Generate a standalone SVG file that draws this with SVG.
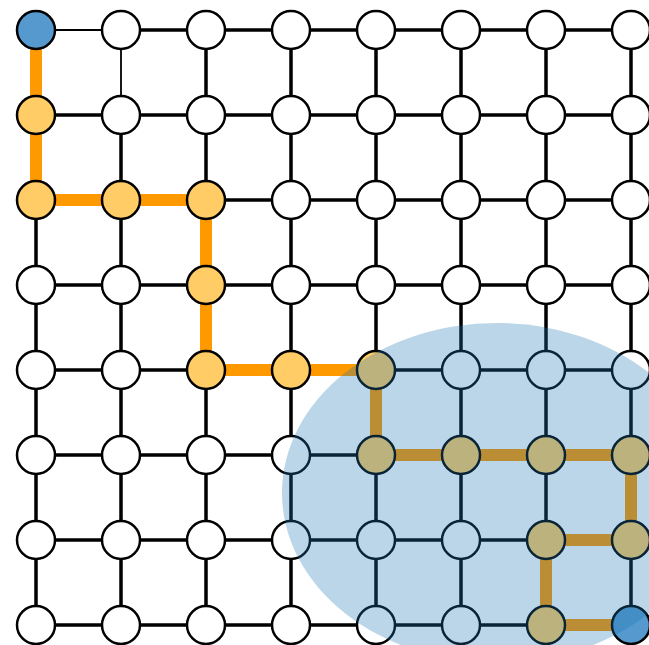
<svg xmlns="http://www.w3.org/2000/svg" width="649" height="645" viewBox="0 0 649 645">
<style>
.e{stroke:#000;stroke-width:3.5;fill:none}
.t{stroke:#000;stroke-width:1.8;fill:none}
.p{stroke:#FF9900;stroke-width:12;fill:none;stroke-linejoin:miter;stroke-linecap:square}
.n{stroke:#000;stroke-width:2.5;fill:#fff}
.y{fill:#FFCC66}
.b{fill:#5599CE}
</style>
<rect width="649" height="645" fill="#fff"/>
<g id="connectors">
<path class="t" d="M36,30H121M121,30V115"/>
<path class="e" d="M121,30H631M36,115H631M36,200H631M36,285H631M36,370H631M36,455H631M36,540H631M36,625H631M36,30V625M121,115V625M206,30V625M291,30V625M376,30V625M461,30V625M546,30V625M631,30V625"/>
<path class="p" d="M36,30V200H206V370H376V455H631V540H546V625H631"/>
</g>
<g id="nodes">
<g id="n0_0"><circle class="n b" cx="36" cy="30" r="19"/></g>
<g id="n1_0"><circle class="n" cx="121" cy="30" r="19"/></g>
<g id="n2_0"><circle class="n" cx="206" cy="30" r="19"/></g>
<g id="n3_0"><circle class="n" cx="291" cy="30" r="19"/></g>
<g id="n4_0"><circle class="n" cx="376" cy="30" r="19"/></g>
<g id="n5_0"><circle class="n" cx="461" cy="30" r="19"/></g>
<g id="n6_0"><circle class="n" cx="546" cy="30" r="19"/></g>
<g id="n7_0"><circle class="n" cx="631" cy="30" r="19"/></g>
<g id="n0_1"><circle class="n y" cx="36" cy="115" r="19"/></g>
<g id="n1_1"><circle class="n" cx="121" cy="115" r="19"/></g>
<g id="n2_1"><circle class="n" cx="206" cy="115" r="19"/></g>
<g id="n3_1"><circle class="n" cx="291" cy="115" r="19"/></g>
<g id="n4_1"><circle class="n" cx="376" cy="115" r="19"/></g>
<g id="n5_1"><circle class="n" cx="461" cy="115" r="19"/></g>
<g id="n6_1"><circle class="n" cx="546" cy="115" r="19"/></g>
<g id="n7_1"><circle class="n" cx="631" cy="115" r="19"/></g>
<g id="n0_2"><circle class="n y" cx="36" cy="200" r="19"/></g>
<g id="n1_2"><circle class="n y" cx="121" cy="200" r="19"/></g>
<g id="n2_2"><circle class="n y" cx="206" cy="200" r="19"/></g>
<g id="n3_2"><circle class="n" cx="291" cy="200" r="19"/></g>
<g id="n4_2"><circle class="n" cx="376" cy="200" r="19"/></g>
<g id="n5_2"><circle class="n" cx="461" cy="200" r="19"/></g>
<g id="n6_2"><circle class="n" cx="546" cy="200" r="19"/></g>
<g id="n7_2"><circle class="n" cx="631" cy="200" r="19"/></g>
<g id="n0_3"><circle class="n" cx="36" cy="285" r="19"/></g>
<g id="n1_3"><circle class="n" cx="121" cy="285" r="19"/></g>
<g id="n2_3"><circle class="n y" cx="206" cy="285" r="19"/></g>
<g id="n3_3"><circle class="n" cx="291" cy="285" r="19"/></g>
<g id="n4_3"><circle class="n" cx="376" cy="285" r="19"/></g>
<g id="n5_3"><circle class="n" cx="461" cy="285" r="19"/></g>
<g id="n6_3"><circle class="n" cx="546" cy="285" r="19"/></g>
<g id="n7_3"><circle class="n" cx="631" cy="285" r="19"/></g>
<g id="n0_4"><circle class="n" cx="36" cy="370" r="19"/></g>
<g id="n1_4"><circle class="n" cx="121" cy="370" r="19"/></g>
<g id="n2_4"><circle class="n y" cx="206" cy="370" r="19"/></g>
<g id="n3_4"><circle class="n y" cx="291" cy="370" r="19"/></g>
<g id="n4_4"><circle class="n y" cx="376" cy="370" r="19"/></g>
<g id="n5_4"><circle class="n" cx="461" cy="370" r="19"/></g>
<g id="n6_4"><circle class="n" cx="546" cy="370" r="19"/></g>
<g id="n7_4"><circle class="n" cx="631" cy="370" r="19"/></g>
<g id="n0_5"><circle class="n" cx="36" cy="455" r="19"/></g>
<g id="n1_5"><circle class="n" cx="121" cy="455" r="19"/></g>
<g id="n2_5"><circle class="n" cx="206" cy="455" r="19"/></g>
<g id="n3_5"><circle class="n" cx="291" cy="455" r="19"/></g>
<g id="n4_5"><circle class="n y" cx="376" cy="455" r="19"/></g>
<g id="n5_5"><circle class="n y" cx="461" cy="455" r="19"/></g>
<g id="n6_5"><circle class="n y" cx="546" cy="455" r="19"/></g>
<g id="n7_5"><circle class="n y" cx="631" cy="455" r="19"/></g>
<g id="n0_6"><circle class="n" cx="36" cy="540" r="19"/></g>
<g id="n1_6"><circle class="n" cx="121" cy="540" r="19"/></g>
<g id="n2_6"><circle class="n" cx="206" cy="540" r="19"/></g>
<g id="n3_6"><circle class="n" cx="291" cy="540" r="19"/></g>
<g id="n4_6"><circle class="n" cx="376" cy="540" r="19"/></g>
<g id="n5_6"><circle class="n" cx="461" cy="540" r="19"/></g>
<g id="n6_6"><circle class="n y" cx="546" cy="540" r="19"/></g>
<g id="n7_6"><circle class="n y" cx="631" cy="540" r="19"/></g>
<g id="n0_7"><circle class="n" cx="36" cy="625" r="19"/></g>
<g id="n1_7"><circle class="n" cx="121" cy="625" r="19"/></g>
<g id="n2_7"><circle class="n" cx="206" cy="625" r="19"/></g>
<g id="n3_7"><circle class="n" cx="291" cy="625" r="19"/></g>
<g id="n4_7"><circle class="n" cx="376" cy="625" r="19"/></g>
<g id="n5_7"><circle class="n" cx="461" cy="625" r="19"/></g>
<g id="n6_7"><circle class="n y" cx="546" cy="625" r="19"/></g>
<g id="n7_7"><circle class="n b" cx="631" cy="625" r="19"/></g>
</g>
<g id="region">
<ellipse cx="497" cy="493" rx="215" ry="170" fill="#1f77b4" fill-opacity="0.3"/>
</g>
</svg>
